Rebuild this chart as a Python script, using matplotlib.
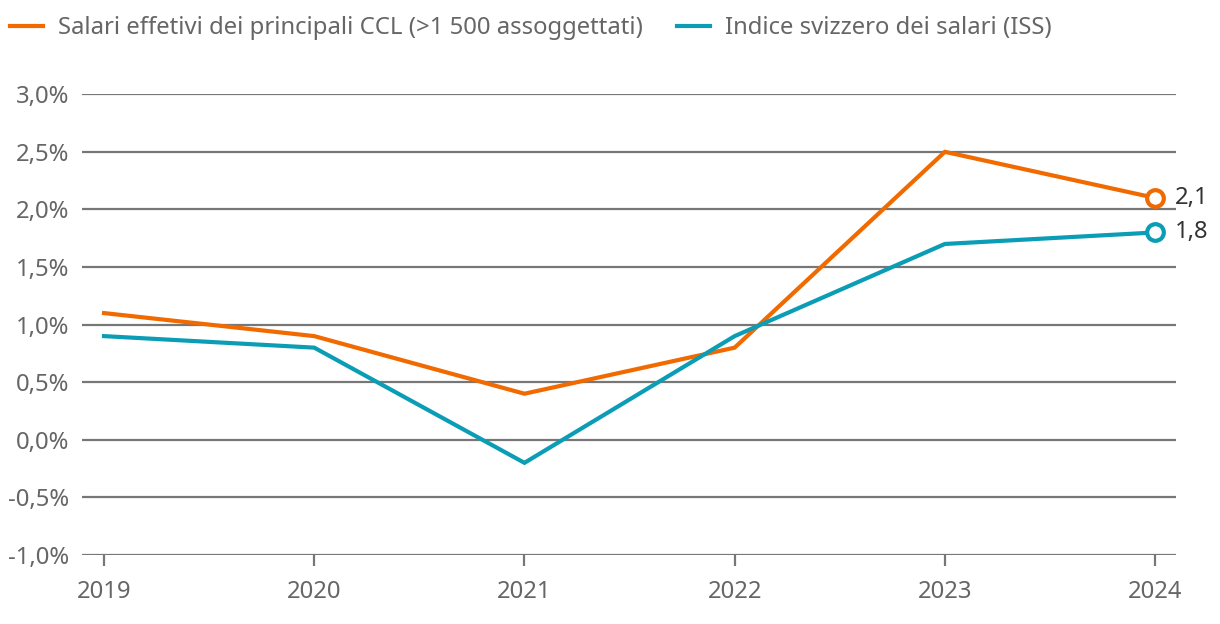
import matplotlib
matplotlib.use("Agg")
import matplotlib.pyplot as plt
from matplotlib.lines import Line2D

plt.rcParams['font.family'] = ['Noto Sans', 'DejaVu Sans']

anni = [2019, 2020, 2021, 2022, 2023, 2024]
salari_ccl = [1.1, 0.9, 0.4, 0.8, 2.5, 2.1]
indice_iss = [0.9, 0.8, -0.2, 0.9, 1.7, 1.8]
yticks = [-1.0, -0.5, 0.0, 0.5, 1.0, 1.5, 2.0, 2.5, 3.0]
nomi = ["Salari effetivi dei principali CCL (>1 500 assoggettati)",
        "Indice svizzero dei salari (ISS)"]

arancio = "#F06A00"
turchese = "#0A9DB5"
grigio = "#666666"
fs = 17.2

fig = plt.figure(figsize=(12.2, 6.24), dpi=100)
ax = fig.add_axes([0.0672, 0.1106, 0.8968, 0.7384])

for y in yticks:
    ax.axhline(y, color="#777777", lw=1.6, zorder=1)

ax.plot(anni, salari_ccl, color=arancio, lw=3, zorder=3, solid_joinstyle="miter")
ax.plot(anni, indice_iss, color=turchese, lw=3, zorder=3, solid_joinstyle="miter")
ax.plot(anni[-1], salari_ccl[-1], "o", ms=12, mfc="white", mec=arancio, mew=3, zorder=4)
ax.plot(anni[-1], indice_iss[-1], "o", ms=12, mfc="white", mec=turchese, mew=3, zorder=4)
ax.annotate(f"{salari_ccl[-1]:.1f}".replace(".", ","), (anni[-1], salari_ccl[-1]),
            xytext=(14, 0), textcoords="offset points", va="center", ha="left",
            fontsize=fs, color="#333333", annotation_clip=False)
ax.annotate(f"{indice_iss[-1]:.1f}".replace(".", ","), (anni[-1], indice_iss[-1]),
            xytext=(14, 0), textcoords="offset points", va="center", ha="left",
            fontsize=fs, color="#333333", annotation_clip=False)

ax.set_xlim(2018.895, 2024.1)
ax.set_ylim(-1.0, 3.0)
ax.set_xticks(anni)
ax.set_xticklabels([str(a) for a in anni])
ax.set_yticks(yticks)
ax.set_yticklabels([f"{v:.1f}%".replace(".", ",") for v in yticks])
for s in ax.spines.values():
    s.set_visible(False)
ax.tick_params(axis="x", length=8, width=1.6, color="#777777", pad=10,
               labelsize=fs, labelcolor=grigio)
ax.tick_params(axis="y", length=0, pad=9, labelsize=fs, labelcolor=grigio)

handles = [Line2D([0], [0], color=arancio, lw=3),
           Line2D([0], [0], color=turchese, lw=3)]
fig.legend(handles, nomi, loc="center left", bbox_to_anchor=(0.008, 0.955), ncol=2,
           frameon=False, fontsize=fs, labelcolor=grigio, handlelength=1.4,
           handletextpad=0.6, columnspacing=1.45, borderpad=0, borderaxespad=0)

fig.savefig("out.png", dpi=100)
